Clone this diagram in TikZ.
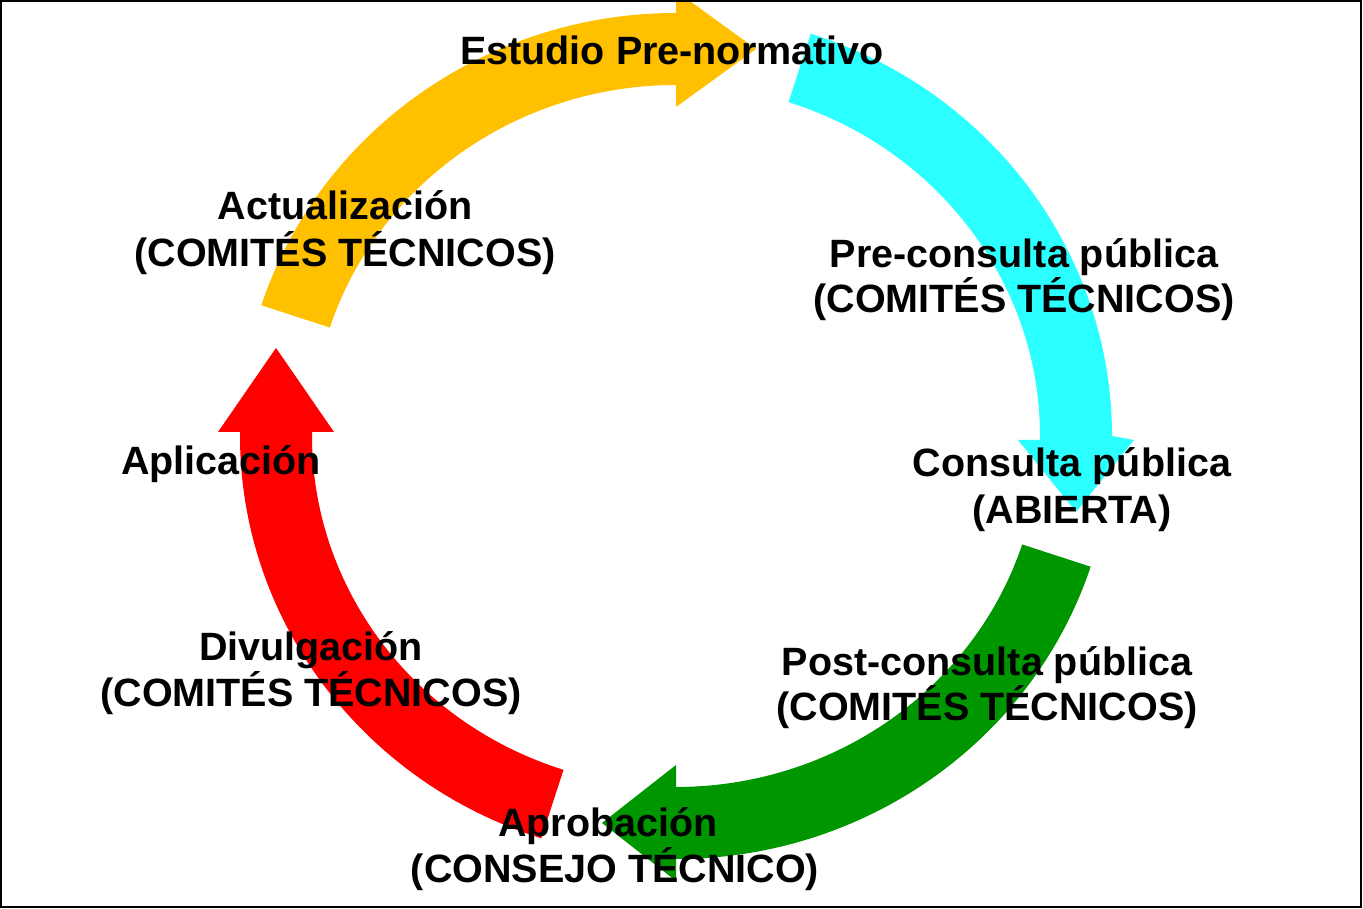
\documentclass[tikz,border=0pt]{standalone}
\usepackage{fontspec}
\setmainfont{Liberation Sans}
\definecolor{corange}{RGB}{255,192,0}
\definecolor{ccyan}{RGB}{43,255,255}
\definecolor{cgreen}{RGB}{0,150,0}
\definecolor{cred}{RGB}{255,0,0}
\begin{document}
\begin{tikzpicture}[x=1pt,y=1pt,
  lbl/.style={font=\fontsize{39.5}{46}\selectfont\bfseries, anchor=base, inner sep=0pt, text=black}]
\useasboundingbox (0,0) rectangle (1363,909);
\begin{scope}
\clip (2,3) rectangle (1360,907);
\begin{scope}[shift={(676,473)}]
% orange: Estudio Pre-normativo
\fill[corange] (162:436pt and 423pt) arc[start angle=162, end angle=90, x radius=436pt, y radius=423pt]
  -- (0,445) -- (80,387) -- (0,329) -- (0,351)
  arc[start angle=90, end angle=162, x radius=364pt, y radius=351pt] -- cycle;
% cyan: Pre-consulta
\fill[ccyan] (72:436pt and 423pt) arc[start angle=72, end angle=0, x radius=436pt, y radius=423pt]
  -- (458,-4) -- (400,-76) -- (342,-4) -- (364,-4) -- (364,0)
  arc[start angle=0, end angle=72, x radius=364pt, y radius=351pt] -- cycle;
% green: Post-consulta
\fill[cgreen] (-18:436pt and 423pt) arc[start angle=-18, end angle=-90, x radius=436pt, y radius=423pt]
  -- (0,-445) -- (-74,-387) -- (0,-329) -- (0,-351)
  arc[start angle=-90, end angle=-18, x radius=364pt, y radius=351pt] -- cycle;
% red: Divulgacion
\fill[cred] (-108:436pt and 423pt) arc[start angle=-108, end angle=-180, x radius=436pt, y radius=423pt]
  -- (-436,4) -- (-458,4) -- (-400,88) -- (-342,4) -- (-364,4) -- (-364,0)
  arc[start angle=-180, end angle=-108, x radius=364pt, y radius=351pt] -- cycle;
\end{scope}
\end{scope}
\draw[line width=2pt] (1,2) rectangle (1361,908);
% labels
\node[lbl] (est) at (672,844) {Estudio Pre-normativo};
\node[lbl] (act1) at (345,689) {Actualización};
\node[lbl] (act2) at (345,642) {(COMITÉS TÉCNICOS)};
\node[lbl] (pre1) at (1024,641) {Pre-consulta pública};
\node[lbl] (pre2) at (1024,596) {(COMITÉS TÉCNICOS)};
\node[lbl] (con1) at (1072,432) {Consulta pública};
\node[lbl] (con2) at (1072,385) {(ABIERTA)};
\node[lbl] (post1) at (987,233) {Post-consulta pública};
\node[lbl] (post2) at (987,188) {(COMITÉS TÉCNICOS)};
\node[lbl] (apr1) at (608,72) {Aprobación};
\node[lbl] (apr2) at (615,26) {(CONSEJO TÉCNICO)};
\node[lbl] (apl) at (221,434) {Aplicación};
\node[lbl] (div1) at (311,248) {Divulgación};
\node[lbl] (div2) at (311,202) {(COMITÉS TÉCNICOS)};
\end{tikzpicture}
\end{document}
